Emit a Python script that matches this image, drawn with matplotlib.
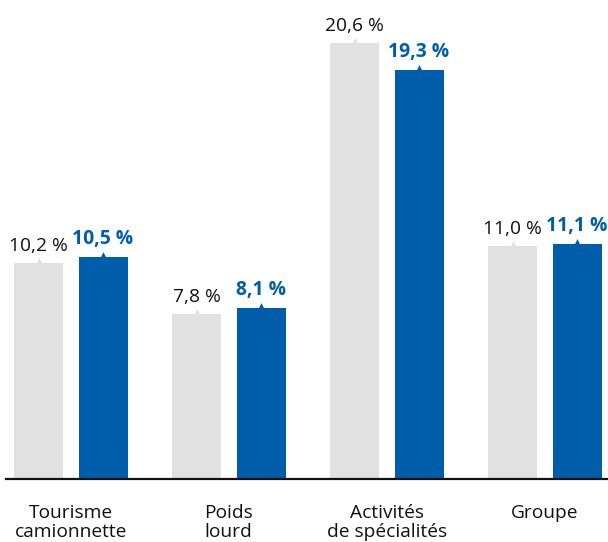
import matplotlib
matplotlib.use("Agg")
import matplotlib.pyplot as plt
import numpy as np

categories = ["Tourisme\ncamionnette", "Poids\nlourd", "Activités\nde spécialités", "Groupe"]
prev_values = [10.2, 7.8, 20.6, 11.0]
curr_values = [10.5, 8.1, 19.3, 11.1]
prev_labels = ["10,2 %", "7,8 %", "20,6 %", "11,0 %"]
curr_labels = ["10,5 %", "8,1 %", "19,3 %", "11,1 %"]

GREY = "#E1E1E1"
BLUE = "#005DA9"

W, H = 608, 542
fig = plt.figure(figsize=(W / 100, H / 100), dpi=100)
base_px = 479
ax = fig.add_axes([6 / W, (H - base_px) / H, 1 - 6 / W, base_px / H])
scale = 21.17
ax.set_ylim(0, base_px / scale)
ax.set_xlim(-(70.75 - 6) / 158, (608 - 70.75) / 158)

x = np.arange(len(categories))
off = 32.25 / 158
bw = 49 / 158
ax.bar(x - off, prev_values, width=bw, color=GREY, zorder=2)
ax.bar(x + off, curr_values, width=bw, color=BLUE, zorder=2)

# small triangle markers on top of bars
ax.scatter(x - off, prev_values, marker="^", s=60, color=GREY, zorder=1, linewidths=0)
ax.scatter(x + off, curr_values, marker="^", s=60, color=BLUE, zorder=1, linewidths=0)

font = "Open Sans"
for xi, v, lab in zip(x - off, prev_values, prev_labels):
    ax.annotate(lab, (xi, v), xytext=(0, 8), textcoords="offset pixels",
                ha="center", va="bottom", fontsize=13.8, color="#111111", family=font)
for xi, v, lab in zip(x + off, curr_values, curr_labels):
    ax.annotate(lab, (xi, v), xytext=(0, 8), textcoords="offset pixels",
                ha="center", va="bottom", fontsize=13.9, color=BLUE, family=font,
                fontweight="bold")

for s in ["top", "right", "left"]:
    ax.spines[s].set_visible(False)
ax.spines["bottom"].set_linewidth(1.6)
ax.spines["bottom"].set_color("#111111")
ax.set_yticks([])
ax.set_xticks(x)
ax.set_xticklabels(categories, fontsize=13.8, family=font, color="#111111", linespacing=1.05)
ax.tick_params(axis="x", length=0, pad=18)

fig.savefig("out.png", dpi=100)
